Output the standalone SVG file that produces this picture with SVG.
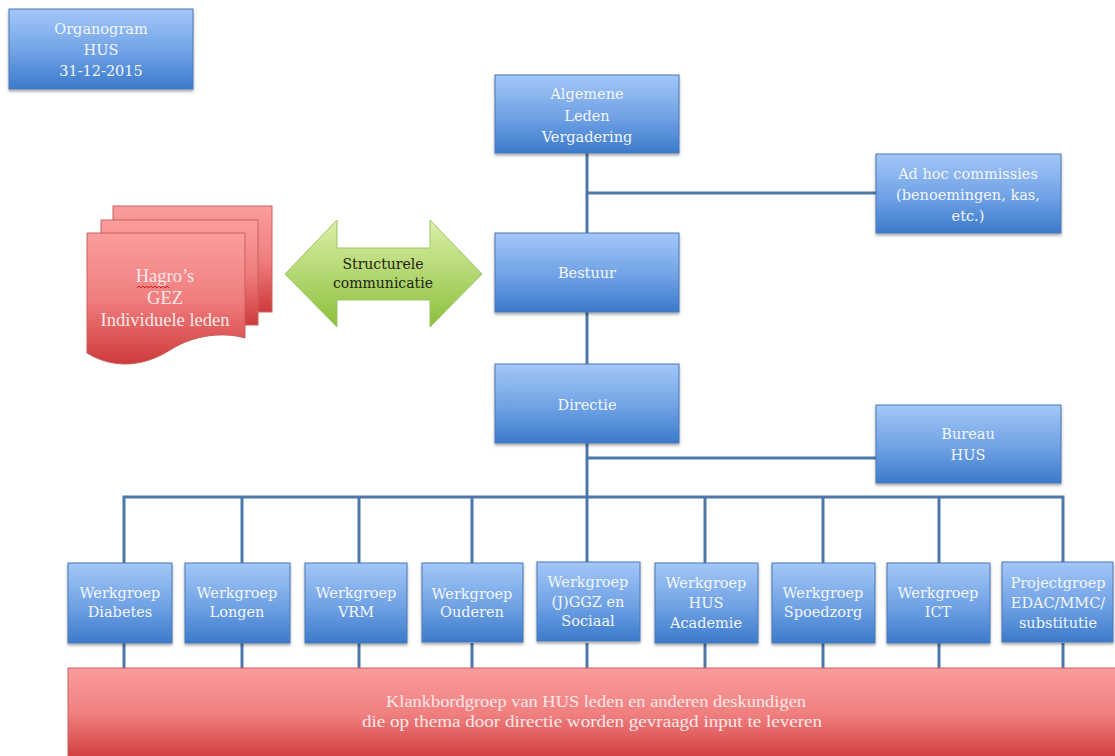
<svg xmlns="http://www.w3.org/2000/svg" width="1115" height="756" viewBox="0 0 1115 756">
<defs>
<linearGradient id="gBlue" x1="0" y1="0" x2="0" y2="1">
<stop offset="0" stop-color="#a3c7f8"/>
<stop offset="0.55" stop-color="#6fa1e4"/>
<stop offset="1" stop-color="#3b7acb"/>
</linearGradient>
<linearGradient id="gRed" x1="0" y1="0" x2="0" y2="1">
<stop offset="0" stop-color="#fb9d9d"/>
<stop offset="0.5" stop-color="#f07f7f"/>
<stop offset="1" stop-color="#cf3a3a"/>
</linearGradient>
<linearGradient id="gGreen" x1="0" y1="0" x2="0" y2="1">
<stop offset="0" stop-color="#dbf0a8"/>
<stop offset="1" stop-color="#8cbf3c"/>
</linearGradient>
<filter id="sh" x="-10%" y="-10%" width="120%" height="130%">
<feDropShadow dx="0" dy="2" stdDeviation="1.5" flood-color="#000" flood-opacity="0.35"/>
</filter>
</defs>
<style>
.box{fill:url(#gBlue);stroke:#4a78b3;stroke-width:1;filter:url(#sh)}
.red{fill:url(#gRed);stroke:#c86060;stroke-width:1}
.t{font-family:"DejaVu Serif","Liberation Serif",serif;font-size:14.5px;fill:#f2f6ff;text-anchor:middle}
.tg{font-family:"DejaVu Serif","Liberation Serif",serif;font-size:14px;fill:#1e2410;text-anchor:middle}
.tr{font-family:"Liberation Serif","DejaVu Serif",serif;font-size:16px;fill:#fde8e8;text-anchor:middle}
.th{font-family:"Liberation Serif","DejaVu Serif",serif;font-size:18.5px;fill:#fde8e8;text-anchor:middle}
.c{stroke:#4c77ab;stroke-width:3;fill:none}
</style>

<g id="connectors">
<line class="c" x1="587" y1="153" x2="587" y2="497"/>
<line class="c" x1="587" y1="193" x2="876" y2="193"/>
<line class="c" x1="587" y1="458" x2="876" y2="458"/>
<polyline class="c" points="124,563 124,497 1063,497 1063,563"/>
<line class="c" x1="242" y1="497" x2="242" y2="563"/>
<line class="c" x1="359" y1="497" x2="359" y2="563"/>
<line class="c" x1="472" y1="497" x2="472" y2="563"/>
<line class="c" x1="587" y1="497" x2="587" y2="563"/>
<line class="c" x1="705" y1="497" x2="705" y2="563"/>
<line class="c" x1="823" y1="497" x2="823" y2="563"/>
<line class="c" x1="939" y1="497" x2="939" y2="563"/>
<line class="c" x1="124" y1="643" x2="124" y2="668"/>
<line class="c" x1="242" y1="643" x2="242" y2="668"/>
<line class="c" x1="359" y1="643" x2="359" y2="668"/>
<line class="c" x1="472" y1="643" x2="472" y2="668"/>
<line class="c" x1="587" y1="643" x2="587" y2="668"/>
<line class="c" x1="705" y1="643" x2="705" y2="668"/>
<line class="c" x1="823" y1="643" x2="823" y2="668"/>
<line class="c" x1="939" y1="643" x2="939" y2="668"/>
<line class="c" x1="1063" y1="643" x2="1063" y2="668"/>
</g>

<g id="organogram">
<rect class="box" x="9" y="9" width="184" height="80"/>
<text class="t" x="101" y="34">Organogram</text>
<text class="t" x="101" y="55">HUS</text>
<text class="t" x="101" y="76">31-12-2015</text>
</g>

<g id="alv">
<rect class="box" x="495" y="75" width="184" height="78"/>
<text class="t" x="587" y="99">Algemene</text>
<text class="t" x="587" y="121">Leden</text>
<text class="t" x="587" y="142">Vergadering</text>
</g>

<g id="adhoc">
<rect class="box" x="876" y="154" width="185" height="79"/>
<text class="t" x="968" y="179">Ad hoc commissies</text>
<text class="t" x="968" y="200">(benoemingen, kas,</text>
<text class="t" x="968" y="221">etc.)</text>
</g>

<g id="bestuur">
<rect class="box" x="495" y="233" width="184" height="79"/>
<text class="t" x="587" y="278">Bestuur</text>
</g>

<g id="directie">
<rect class="box" x="495" y="364" width="184" height="79"/>
<text class="t" x="587" y="410">Directie</text>
</g>

<g id="bureau">
<rect class="box" x="876" y="405" width="185" height="78"/>
<text class="t" x="968" y="439">Bureau</text>
<text class="t" x="968" y="460">HUS</text>
</g>

<g id="hagros">
<rect class="red" x="113" y="206" width="159" height="106"/>
<rect class="red" x="101" y="220" width="157" height="105"/>
<path class="red" d="M87,233 H245 V338 C225,332 195,334 170,350 C145,366 115,370 87,353 Z"/>
<text class="th" x="165" y="282">Hagro’s</text>
<path d="M137,288 l2,-2 l2,2 l2,-2 l2,2 l2,-2 l2,2 l2,-2 l2,2 l2,-2 l2,2 l2,-2 l2,2 l2,-2 l2,2 l2,-2 l2,2" fill="none" stroke="#d02020" stroke-width="1"/>
<text class="th" x="165" y="304">GEZ</text>
<text class="th" x="165" y="326">Individuele leden</text>
</g>

<g id="communicatie">
<path d="M285,274 L337,220 L337,248 L430,248 L430,220 L482,274 L430,327 L430,300 L337,300 L337,327 Z" fill="url(#gGreen)" stroke="#9cc566" stroke-width="1"/>
<text class="tg" x="383" y="269">Structurele</text>
<text class="tg" x="383" y="288">communicatie</text>
</g>

<g id="wg-diabetes">
<rect class="box" x="68" y="563" width="104" height="80"/>
<text class="t" x="120" y="598">Werkgroep</text>
<text class="t" x="120" y="617">Diabetes</text>
</g>
<g id="wg-longen">
<rect class="box" x="185" y="563" width="105" height="80"/>
<text class="t" x="237" y="598">Werkgroep</text>
<text class="t" x="237" y="617">Longen</text>
</g>
<g id="wg-vrm">
<rect class="box" x="305" y="563" width="102" height="80"/>
<text class="t" x="356" y="598">Werkgroep</text>
<text class="t" x="356" y="617">VRM</text>
</g>
<g id="wg-ouderen">
<rect class="box" x="422" y="563" width="101" height="79"/>
<text class="t" x="472" y="599">Werkgroep</text>
<text class="t" x="472" y="617">Ouderen</text>
</g>
<g id="wg-jggz">
<rect class="box" x="537" y="562" width="103" height="79"/>
<text class="t" x="588" y="587">Werkgroep</text>
<text class="t" x="588" y="607">(J)GGZ en</text>
<text class="t" x="588" y="626">Sociaal</text>
</g>
<g id="wg-academie">
<rect class="box" x="655" y="563" width="103" height="80"/>
<text class="t" x="706" y="588">Werkgroep</text>
<text class="t" x="706" y="608">HUS</text>
<text class="t" x="706" y="628">Academie</text>
</g>
<g id="wg-spoedzorg">
<rect class="box" x="772" y="563" width="103" height="80"/>
<text class="t" x="823" y="598">Werkgroep</text>
<text class="t" x="823" y="617">Spoedzorg</text>
</g>
<g id="wg-ict">
<rect class="box" x="887" y="563" width="103" height="80"/>
<text class="t" x="938" y="598">Werkgroep</text>
<text class="t" x="938" y="617">ICT</text>
</g>
<g id="pg-edac">
<rect class="box" x="1002" y="562" width="111" height="80"/>
<text class="t" x="1058" y="588">Projectgroep</text>
<text class="t" x="1058" y="608">EDAC/MMC/</text>
<text class="t" x="1058" y="628">substitutie</text>
</g>

<g id="klankbord">
<rect class="red" x="68" y="668" width="1050" height="92"/>
<text class="tr" x="596" y="707" textLength="420" lengthAdjust="spacingAndGlyphs">Klankbordgroep van HUS leden en anderen deskundigen</text>
<text class="tr" x="592" y="727" textLength="460" lengthAdjust="spacingAndGlyphs">die op thema door directie worden gevraagd input te leveren</text>
</g>
</svg>
